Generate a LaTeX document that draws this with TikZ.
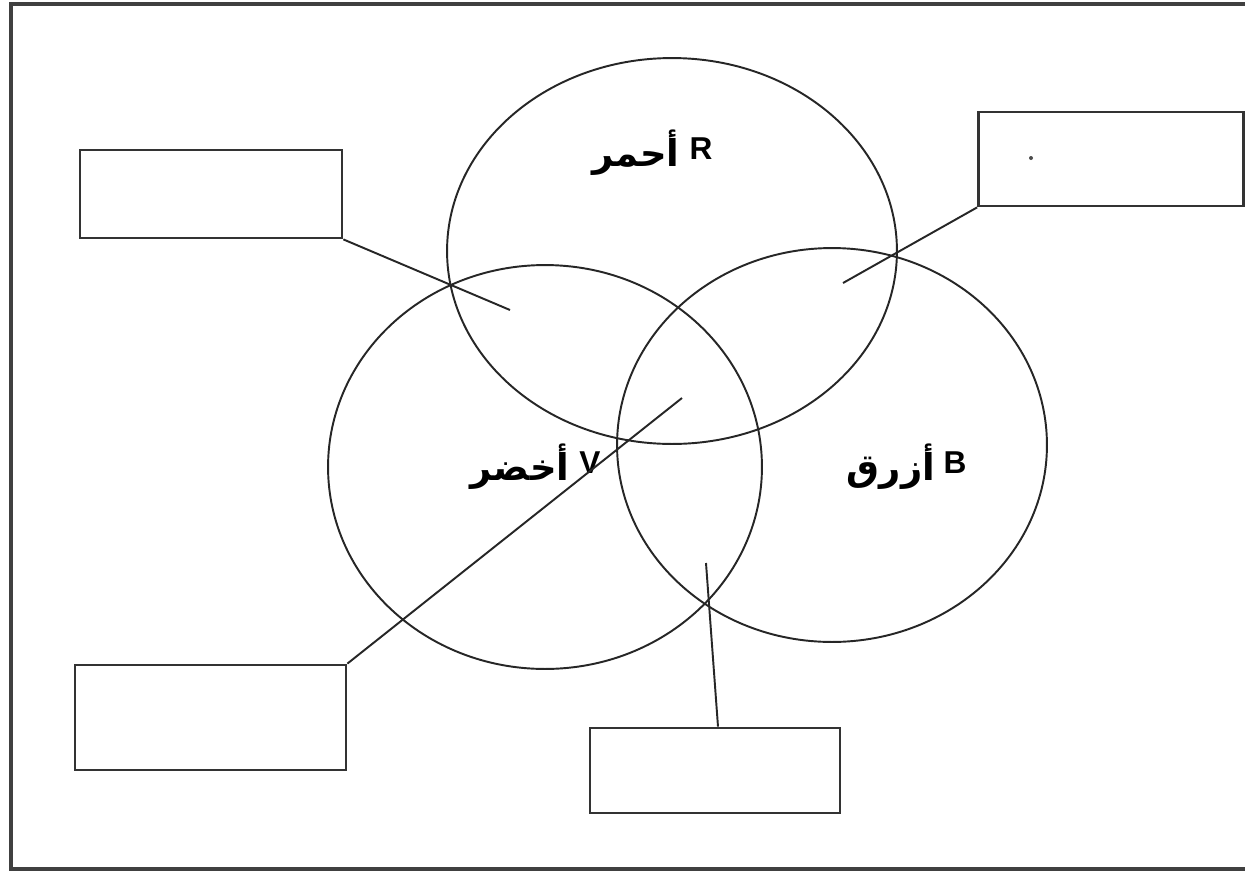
\documentclass[tikz,border=0pt]{standalone}
\usepackage{fontspec}
\usetikzlibrary{shapes.geometric}
\setmainfont{Liberation Sans}
\newfontfamily\arabicfont[Script=Arabic]{DejaVu Sans}
\TeXXeTstate=1
\tikzset{
  circ/.style={draw=black!85, line width=1.1pt, ellipse, inner sep=0pt},
  blank/.style={draw=black!80, line width=1.6pt, rectangle, inner sep=0pt},
  link/.style={draw=black!85, line width=1.1pt},
  lat/.style={font=\fontsize{18}{20}\selectfont\bfseries, inner sep=0pt},
  arb/.style={font=\fontsize{21}{23}\selectfont\arabicfont\bfseries, inner sep=0pt},
}
\begin{document}
\begin{tikzpicture}[x=0.02cm,y=-0.02cm]
\useasboundingbox (0,0) rectangle (1245,873);
\clip (0,0) rectangle (1245,873);
\fill[white] (0,0) rectangle (1245,873);
\draw[black!75, line width=1.8pt] (1260,4) -- (11,4) -- (11,869) -- (1260,869);
% circles
\node[circ, minimum width=9cm, minimum height=7.72cm] (red) at (672,251) {};
\node[circ, minimum width=8.68cm, minimum height=8.08cm] (green) at (545,467) {};
\node[circ, minimum width=8.6cm, minimum height=7.88cm] (blue) at (832,445) {};
% labels
\node[lat] (rl) at (701,149) {R};
\node[arb] (ra) at (636,153) {\beginR أحمر\endR};
\node[lat] (vl) at (590,463) {V};
\node[arb] (va) at (520,467) {\beginR أخضر\endR};
\node[lat] (bl) at (955,463) {B};
\node[arb] (ba) at (891,467) {\beginR أزرق\endR};
% boxes
\node[blank, minimum width=5.24cm, minimum height=1.76cm] (tl) at (211,194) {};
\node[blank, minimum width=5.3cm, minimum height=1.88cm] (tr) at (1111,159) {};
\node[blank, minimum width=5.42cm, minimum height=2.1cm] (bx) at (210.5,717.5) {};
\node[blank, minimum width=5.0cm, minimum height=1.7cm] (bc) at (715,770.5) {};
\node[circle, fill=black!70, inner sep=0pt, minimum size=0.08cm] (dot) at (1031,158) {};
% connector ends
\coordinate (e1) at (510,310);
\coordinate (e2) at (843,283);
\coordinate (e3) at (682,398);
\coordinate (e4) at (706,563);
\draw[link] (tl.south east) -- (e1);
\draw[link] (tr.south west) -- (e2);
\draw[link] (bx.north east) -- (e3);
\draw[link] ([xshift=0.06cm]bc.north) -- (e4);
\end{tikzpicture}
\end{document}
